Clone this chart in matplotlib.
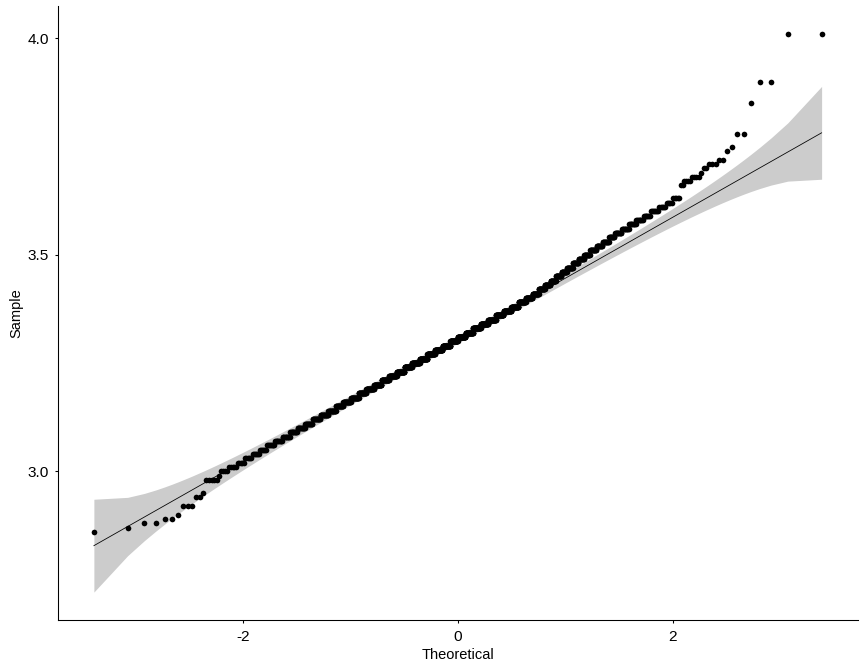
import numpy as np
import matplotlib
matplotlib.use("Agg")
import matplotlib.pyplot as plt
from statistics import NormalDist

# ---- data (sample values on a 0.01 grid and how many times each occurs) ----
sample_values = [2.86, 2.87, 2.88, 2.89, 2.90, 2.92, 2.94, 2.95, 2.98, 2.99,
                 3.00, 3.01, 3.02, 3.03, 3.04, 3.05, 3.06, 3.07, 3.08, 3.09,
                 3.10, 3.11, 3.12, 3.13, 3.14, 3.15, 3.16, 3.17, 3.18, 3.19,
                 3.20, 3.21, 3.22, 3.23, 3.24, 3.25, 3.26, 3.27, 3.28, 3.29,
                 3.30, 3.31, 3.32, 3.33, 3.34, 3.35, 3.36, 3.37, 3.38, 3.39,
                 3.40, 3.41, 3.42, 3.43, 3.44, 3.45, 3.46, 3.47, 3.48, 3.49,
                 3.50, 3.51, 3.52, 3.53, 3.54, 3.55, 3.56, 3.57, 3.58, 3.59,
                 3.60, 3.61, 3.62, 3.63, 3.66, 3.67, 3.68, 3.69, 3.70, 3.71,
                 3.72, 3.74, 3.75, 3.78, 3.85, 3.90, 4.01]
sample_counts = [1, 1, 2, 2, 1, 3, 2, 1, 5, 1,
                 4, 5, 5, 6, 7, 7, 9, 10, 11, 12,
                 14, 15, 17, 19, 20, 21, 23, 26, 26, 29,
                 30, 31, 33, 35, 35, 37, 38, 38, 39, 40,
                 39, 40, 39, 39, 38, 38, 37, 36, 33, 31,
                 28, 25, 23, 21, 19, 19, 17, 18, 16, 15,
                 15, 15, 13, 13, 11, 12, 11, 10, 9, 8,
                 8, 6, 5, 5, 2, 4, 4, 1, 2, 3,
                 2, 1, 1, 2, 1, 2, 2]

x_ticks = [-2, 0, 2]
x_tick_labels = ["-2", "0", "2"]
y_ticks = [3.0, 3.5, 4.0]
y_tick_labels = ["3.0", "3.5", "4.0"]
x_label = "Theoretical"
y_label = "Sample"
conf_level = 0.95

# ---- normal QQ statistics (as stat_qq / qqline / pointwise band do) ----
sample = np.sort(np.repeat(sample_values, sample_counts))
n = len(sample)
nd = NormalDist()
p = (np.arange(1, n + 1) - 0.5) / n
theo = np.array([nd.inv_cdf(v) for v in p])

zq = np.array([nd.inv_cdf(0.25), nd.inv_cdf(0.75)])
yq = np.quantile(sample, [0.25, 0.75])
slope = (yq[1] - yq[0]) / (zq[1] - zq[0])
intercept = yq[0] - slope * zq[0]
fit = intercept + slope * theo
zcrit = nd.inv_cdf(1 - (1 - conf_level) / 2)
dens = np.array([nd.pdf(z) for z in theo])
se = slope / dens * np.sqrt(p * (1 - p) / n)
upper = fit + zcrit * se
lower = fit - zcrit * se

# ---- figure ----
plt.rcParams['font.family'] = ['Liberation Sans', 'DejaVu Sans']
fig = plt.figure(figsize=(9, 7), dpi=96)
ax = fig.add_axes([57.5 / 864, 52 / 672, (858 - 57.5) / 864, (620 - 6) / 672])

ax.fill_between(theo, lower, upper, color='#CCCCCC', linewidth=0, zorder=1)
ax.plot(theo, fit, color='black', linewidth=0.6, zorder=2)
ax.scatter(theo, sample, s=18, color='black', linewidths=0, zorder=3)

xr = theo.max() - theo.min()
ax.set_xlim(theo.min() - 0.05 * xr, theo.max() + 0.05 * xr)
ylo = min(lower.min(), sample.min())
yhi = max(upper.max(), sample.max())
yr = yhi - ylo
ax.set_ylim(ylo - 0.05 * yr, yhi + 0.05 * yr)

ax.set_xticks(x_ticks)
ax.set_xticklabels(x_tick_labels)
ax.set_yticks(y_ticks)
ax.set_yticklabels(y_tick_labels)

for side in ['top', 'right']:
    ax.spines[side].set_visible(False)
for side in ['left', 'bottom']:
    ax.spines[side].set_linewidth(0.8)
    ax.spines[side].set_color('black')
ax.tick_params(axis='both', direction='out', length=2.5, width=0.8, colors='black',
               labelsize=11.5)
ax.tick_params(axis='x', pad=5)
ax.tick_params(axis='y', pad=4)

ax.set_xlabel(x_label, fontsize=11, labelpad=3)
ax.set_ylabel(y_label, fontsize=11, labelpad=3)

fig.savefig('out.png', dpi=96, facecolor='white')
